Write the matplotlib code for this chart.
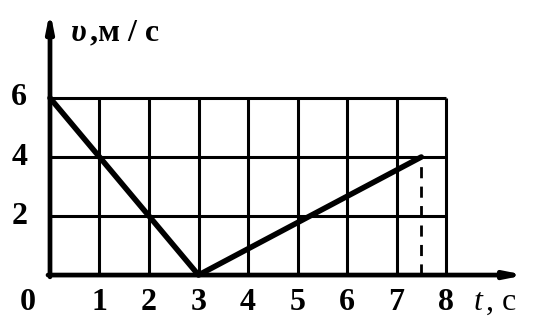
import matplotlib
matplotlib.use("Agg")
import matplotlib.pyplot as plt

# data
t_points = [0, 3, 7.5]
v_points = [6, 0, 4]
t_ticks = [1, 2, 3, 4, 5, 6, 7, 8]
v_ticks = [2, 4, 6]
t_end = 7.5
v_end = 4

plt.rcParams['font.family'] = ['Liberation Serif', 'DejaVu Serif']

fig = plt.figure(figsize=(5.47, 3.27), dpi=100)
ax = fig.add_axes([0, 0, 1, 1])
ax.set_xlim(-1.01, 10.04)
ax.set_ylim(-1.76, 9.32)
ax.axis('off')

# grid
for t in t_ticks:
    ax.plot([t, t], [0, 6], color='black', lw=2.2, solid_capstyle='butt')
for v in v_ticks:
    ax.plot([0, 8], [v, v], color='black', lw=2.2, solid_capstyle='butt')

# axes with arrows
ax.annotate('', xy=(9.6, 0), xytext=(-0.04, 0),
            arrowprops=dict(arrowstyle='-|>,head_length=1.0,head_width=0.2',
                            color='black', lw=3.4, shrinkA=0, shrinkB=0))
ax.annotate('', xy=(0, 8.95), xytext=(0, -0.06),
            arrowprops=dict(arrowstyle='-|>,head_length=1.0,head_width=0.2',
                            color='black', lw=3.4, shrinkA=0, shrinkB=0))

# v(t)
ax.plot(t_points, v_points, color='black', lw=4, solid_capstyle='round')
ax.plot([t_end, t_end], [0, v_end], color='black', lw=2, linestyle=(0, (4, 3)))

# tick labels
fs = 23
ax.text(-0.45, -0.92, '0', fontsize=fs, fontweight='bold', ha='center', va='center')
for t in t_ticks:
    ax.text(t, -0.92, str(t), fontsize=fs, fontweight='bold', ha='center', va='center')
for v in v_ticks:
    ax.text(-0.62, v, str(v), fontsize=fs, fontweight='bold', ha='center', va='center')

ax.text(0.42, 8.2, 'υ', fontsize=23, fontweight='bold', style='italic', ha='left', va='center')
ax.text(0.8, 8.2, ',м / с', fontsize=23, fontweight='bold', ha='left', va='center')
ax.text(8.55, -0.92, 't', fontsize=fs, style='italic', ha='left', va='center')
ax.text(8.8, -0.92, ', с', fontsize=fs, ha='left', va='center')

fig.savefig('out.png', dpi=100)
